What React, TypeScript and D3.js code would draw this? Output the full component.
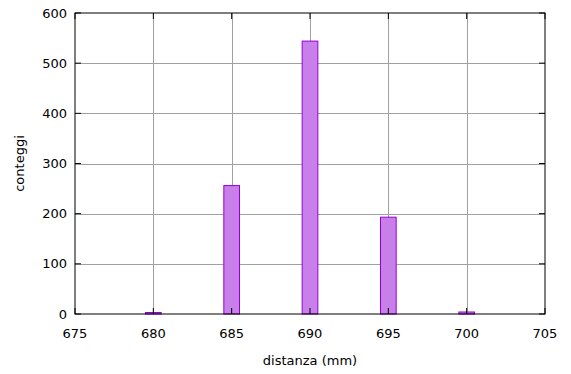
import React from "react";
import * as d3 from "d3";

const distances = [680, 685, 690, 695, 700];
const counts = [3, 256, 544, 193, 4];
const xTicks = [675, 680, 685, 690, 695, 700, 705];
const yTicks = [0, 100, 200, 300, 400, 500, 600];

const W = 571;
const H = 374;
const M = { left: 75, right: 26, top: 13, bottom: 60 };

export default function App() {
  const x = d3.scaleLinear().domain([675, 705]).range([M.left, W - M.right]);
  const y = d3.scaleLinear().domain([0, 600]).range([H - M.bottom, M.top]);
  const x0 = M.left, x1 = W - M.right, y0 = H - M.bottom, y1 = M.top;
  const font = "DejaVu Sans, sans-serif";
  const grid = "#a0a0a0";
  const fs = 13;
  return (
    <svg width={W} height={H} style={{ position: "absolute", left: 0, top: 0, background: "#fff" }}>
      <rect x={0} y={0} width={W} height={H} fill="#fff" />
      {xTicks.slice(1, -1).map((t) => (
        <line key={"gx" + t} x1={Math.round(x(t)) + 0.5} x2={Math.round(x(t)) + 0.5} y1={y1} y2={y0} stroke={grid} strokeWidth={1} />
      ))}
      {yTicks.slice(1, -1).map((t) => (
        <line key={"gy" + t} x1={x0} x2={x1} y1={Math.round(y(t)) + 0.5} y2={Math.round(y(t)) + 0.5} stroke={grid} strokeWidth={1} />
      ))}
      {distances.map((d, i) => (
        <rect
          key={"b" + d}
          x={x(d - 0.5)}
          y={y(counts[i])}
          width={x(d + 0.5) - x(d - 0.5)}
          height={y(0) - y(counts[i])}
          fill="#c97fe9"
          stroke="#9400d3"
          strokeWidth={1}
        />
      ))}
      {xTicks.map((t) => (
        <g key={"tx" + t}>
          <line x1={x(t)} x2={x(t)} y1={y0} y2={y0 - 6} stroke="#000" />
          <line x1={x(t)} x2={x(t)} y1={y1} y2={y1 + 6} stroke="#000" />
          <text x={x(t)} y={y0 + 24} textAnchor="middle" fontFamily={font} fontSize={fs} fill="#000">{t}</text>
        </g>
      ))}
      {yTicks.map((t) => (
        <g key={"ty" + t}>
          <line x1={x0} x2={x0 + 6} y1={y(t)} y2={y(t)} stroke="#000" />
          <line x1={x1} x2={x1 - 6} y1={y(t)} y2={y(t)} stroke="#000" />
          <text x={x0 - 8} y={y(t) + 4.5} textAnchor="end" fontFamily={font} fontSize={fs} fill="#000">{t}</text>
        </g>
      ))}
      <rect x={x0} y={y1} width={x1 - x0} height={y0 - y1} fill="none" stroke="#000" strokeWidth={1} />
      <text x={(x0 + x1) / 2} y={365} textAnchor="middle" fontFamily={font} fontSize={fs} fill="#000">distanza (mm)</text>
      <text transform={`translate(24, ${(y0 + y1) / 2}) rotate(-90)`} textAnchor="middle" fontFamily={font} fontSize={fs} fill="#000">conteggi</text>
    </svg>
  );
}
